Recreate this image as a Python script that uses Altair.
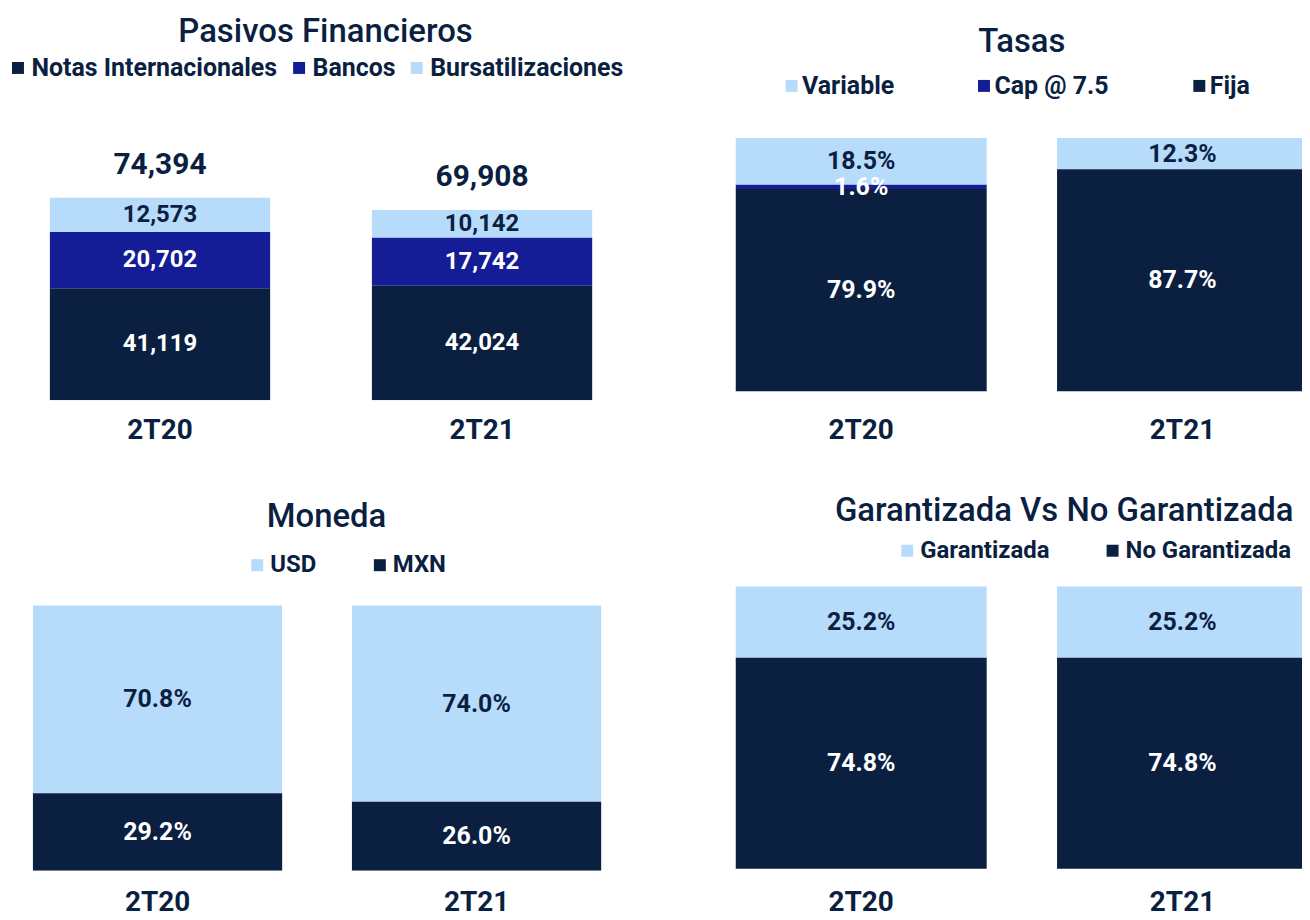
import altair as alt
import pandas as pd

# ---------------- data ----------------
periods = ["2T20", "2T21"]

pf_series = ["Notas Internacionales", "Bancos", "Bursatilizaciones"]
pf_notas = [41119, 42024]
pf_bancos = [20702, 17742]
pf_bursa = [12573, 10142]

tasas_series = ["Variable", "Cap @ 7.5", "Fija"]
tasas_variable = [18.5, 12.3]
tasas_cap = [1.6, 0.0]
tasas_fija = [79.9, 87.7]

moneda_series = ["USD", "MXN"]
moneda_usd = [70.8, 74.0]
moneda_mxn = [29.2, 26.0]

gar_series = ["Garantizada", "No Garantizada"]
gar_g = [25.2, 25.2]
gar_ng = [74.8, 74.8]

NAVY = "#0B1F41"
BLUE = "#141C96"
LIGHT = "#B7DBFB"
FONT = "Roboto"

H = 288


def frame(series_values, stack_bottom_to_top):
    rows = []
    for name, vals in series_values:
        for p, v in zip(periods, vals):
            rows.append({"periodo": p, "serie": name, "valor": v,
                         "orden": stack_bottom_to_top.index(name)})
    return pd.DataFrame(rows)


def panel(df, legend_order, colors, light_series, label_expr, label_size, width, xrange,
          pinner, ydomain, title, title_dx, title_offset, leg_x, leg_y, leg_fs, col_pad,
          lab_off, x_lab_pad, totals=False):
    xenc = alt.X("periodo:N", sort=periods,
                 scale=alt.Scale(range=xrange, paddingInner=pinner, paddingOuter=0),
                 axis=alt.Axis(title=None, domain=False, ticks=False, tickSize=0,
                               labelAngle=0, labelFont=FONT, labelFontSize=28,
                               labelFontWeight="bold", labelColor=NAVY,
                               labelPadding=x_lab_pad))
    base = alt.Chart(df).transform_stack(
        stack="valor", groupby=["periodo"], as_=["v0", "v1"],
        sort=[alt.SortField("orden", order="ascending")])
    bars = base.mark_bar(clip=True).encode(
        x=xenc,
        y=alt.Y("v0:Q", scale=alt.Scale(domain=ydomain, nice=False, zero=False), axis=None),
        y2="v1:Q",
        color=alt.Color("serie:N",
                        scale=alt.Scale(domain=legend_order, range=colors),
                        legend=alt.Legend(orient="none", legendX=leg_x, legendY=leg_y,
                                          direction="horizontal", title=None,
                                          symbolType="square", symbolSize=144,
                                          symbolStrokeWidth=0,
                                          symbolOffset={"expr": str(-(leg_fs / 2 - 6))},
                                          labelFont=FONT,
                                          labelFontSize=leg_fs, labelFontWeight="bold",
                                          labelColor=NAVY, columnPadding=col_pad,
                                          labelOffset={"expr": str(lab_off)}, padding=0,
                                          labelLimit=400)),
    )
    labels = base.transform_filter("datum.valor > 0").transform_calculate(
        mid="(datum.v0 + datum.v1) / 2", etiqueta=label_expr
    ).mark_text(font=FONT, fontSize=label_size, fontWeight="bold", baseline="middle").encode(
        x=alt.X("periodo:N", sort=periods),
        y=alt.Y("mid:Q"),
        text="etiqueta:N",
        color=alt.condition(alt.FieldOneOfPredicate(field="serie", oneOf=light_series),
                            alt.value(NAVY), alt.value("white")),
    )
    layers = [bars, labels]
    if totals:
        tot = alt.Chart(df).transform_aggregate(
            total="sum(valor)", groupby=["periodo"]
        ).mark_text(font=FONT, fontSize=30, fontWeight="bold", color=NAVY,
                    baseline="alphabetic", dy=-24).encode(
            x=alt.X("periodo:N", sort=periods),
            y=alt.Y("total:Q"),
            text=alt.Text("total:Q", format=","),
        )
        layers.append(tot)
    return alt.layer(*layers).properties(
        width=width, height=H,
        title=alt.TitleParams(title, font=FONT, fontSize=33, fontWeight=500,
                              color=NAVY, anchor="middle", frame="group",
                              dx=title_dx, offset=title_offset),
    )


pct = "format(datum.valor, '.1f') + '%'"

df_pf = frame([("Notas Internacionales", pf_notas), ("Bancos", pf_bancos),
               ("Bursatilizaciones", pf_bursa)],
              ["Notas Internacionales", "Bancos", "Bursatilizaciones"])
df_t = frame([("Variable", tasas_variable), ("Cap @ 7.5", tasas_cap), ("Fija", tasas_fija)],
             ["Fija", "Cap @ 7.5", "Variable"])
df_m = frame([("USD", moneda_usd), ("MXN", moneda_mxn)], ["MXN", "USD"])
df_g = frame([("Garantizada", gar_g), ("No Garantizada", gar_ng)],
             ["No Garantizada", "Garantizada"])

p1 = panel(df_pf, pf_series, [NAVY, BLUE, LIGHT], ["Bursatilizaciones"],
           "format(datum.valor, ',')", 24, 590, [30, 574], 0.316,
           [0, H * 74394 / 203], "Pasivos Financieros", 11.5, 6,
           -8, -58, 25, 15, 1, 16, totals=True)
p2 = panel(df_t, tasas_series, [LIGHT, BLUE, NAVY], ["Variable"], pct, 25, 586,
           [18, 592], 0.219, [-9 / 2.54, -9 / 2.54 + H / 2.54], "Tasas", 12, 14,
           68, -40, 25, 84, -2, 16)
p3 = panel(df_m, moneda_series, [LIGHT, NAVY], ["USD"], pct, 25, 590,
           [13, 583], 0.21875, [0, H / 2.66], "Moneda", 12.5, 19.5,
           232, -30.5, 24, 57, 1, 18)
p4 = panel(df_g, gar_series, [LIGHT, NAVY], ["Garantizada"], pct, 25, 586,
           [18, 592], 0.219, [-2 / 2.83, -2 / 2.83 + H / 2.83],
           "Garantizada Vs No Garantizada", 54.5, 11,
           184, -45, 24, 57, 1, 18)

chart = alt.concat(p1, p2, p3, p4, columns=2, spacing={"row": 184, "column": 110},
                   bounds="flush").resolve_scale(
    x="independent", y="independent", color="independent"
).resolve_legend(color="independent").properties(
    padding={"left": 4, "top": 7, "right": 0, "bottom": -5},
    background="white",
).configure_view(stroke="transparent", strokeWidth=0)

chart.save("out.html", embed_options={"renderer": "svg", "actions": False})
